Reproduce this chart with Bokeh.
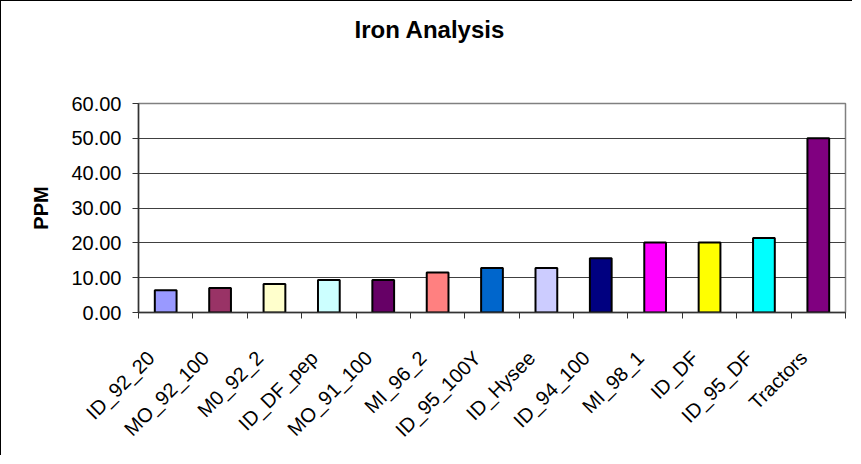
from math import pi
from bokeh.plotting import figure
from bokeh.models import (FixedTicker, NumeralTickFormatter, Range1d, LinearAxis,
                          ColumnDataSource, Grid, Title)
from bokeh.embed import file_html
from bokeh.resources import INLINE

categories = ["ID_92_20", "MO_92_100", "M0_92_2", "ID_DF_pep", "MO_91_100",
              "MI_96_2", "ID_95_100Y", "ID_Hysee", "ID_94_100", "MI_98_1",
              "ID_DF", "ID_95_DF", "Tractors"]
ppm = [6.4, 7.0, 8.2, 9.3, 9.3, 11.5, 12.8, 12.8, 15.6, 20.1, 20.1, 21.4, 50.0]
bar_colors = ["#9999FF", "#993366", "#FFFFCC", "#CCFFFF", "#660066", "#FF8080",
              "#0066CC", "#CCCCFF", "#000080", "#FF00FF", "#FFFF00", "#00FFFF",
              "#800080"]
y_ticks = [0, 10, 20, 30, 40, 50, 60]
title_text = "Iron Analysis"
y_label = "PPM"

FONT = "Liberation Sans"
n = len(categories)
centers = [i + 0.5 for i in range(n)]
bounds = list(range(n + 1))
# rotated labels are anchored a little left of the category centre (as in the original)
label_pos = [c - 0.27 for c in centers]

src = ColumnDataSource(dict(x=centers, top=ppm, color=bar_colors, name=categories))

p = figure(width=852, height=455, output_backend="svg", toolbar_location=None,
           x_range=Range1d(0, n), y_range=Range1d(0, 60),
           x_axis_type=None, y_axis_type=None, title=title_text)
p.min_border_left = 137
p.min_border_right = 8
p.min_border_top = 102
p.min_border_bottom = 144
p.background_fill_color = "white"
p.border_fill_color = "white"
p.outline_line_color = "#808080"
p.outline_line_width = 1.5
p.styles = {"border-left": "1px solid #000", "border-top": "1px solid #000"}

p.title.align = "left"
p.title.offset = 216
p.title.standoff = 0
p.title.text_font = FONT
p.title.text_font_size = "24px"
p.title.text_font_style = "bold"
p.title.text_color = "black"

# empty spacer between the title and the plot area
spacer = Title(text="\u00a0", text_font_size="53px", standoff=0, text_color="white")
p.add_layout(spacer, "above")

yaxis = LinearAxis(ticker=FixedTicker(ticks=y_ticks, minor_ticks=[]),
                   formatter=NumeralTickFormatter(format="0.00"),
                   axis_label=y_label)
yaxis.major_tick_out = 6
yaxis.major_tick_in = 0
yaxis.minor_tick_out = 0
yaxis.minor_tick_in = 0
yaxis.axis_line_color = "#333333"
yaxis.axis_line_width = 1.5
yaxis.major_tick_line_color = "#333333"
yaxis.major_label_text_font = FONT
yaxis.major_label_text_font_size = "20px"
yaxis.major_label_text_color = "black"
yaxis.major_label_standoff = 11
yaxis.axis_label_text_font = FONT
yaxis.axis_label_text_font_size = "20px"
yaxis.axis_label_text_font_style = "bold"
yaxis.axis_label_text_color = "black"
yaxis.axis_label_standoff = 16
p.add_layout(yaxis, "left")

xaxis = LinearAxis(ticker=FixedTicker(ticks=label_pos, minor_ticks=bounds),
                   major_label_overrides={c: name for c, name in zip(label_pos, categories)},
                   major_label_orientation=pi / 4)
xaxis.major_tick_out = 0
xaxis.major_tick_in = 0
xaxis.minor_tick_out = 6
xaxis.minor_tick_in = 0
xaxis.minor_tick_line_color = "#333333"
xaxis.axis_line_color = "#333333"
xaxis.axis_line_width = 1.5
xaxis.major_label_text_font = FONT
xaxis.major_label_text_font_size = "20px"
xaxis.major_label_text_color = "black"
xaxis.major_label_standoff = 36
p.add_layout(xaxis, "below")

grid = Grid(dimension=1, ticker=yaxis.ticker, grid_line_color="#404040",
            grid_line_width=1)
p.add_layout(grid)

p.vbar(x="x", top="top", width=0.4, fill_color="color", line_color="black",
       line_width=2, source=src)

open("out.html", "w").write(file_html(p, INLINE))
